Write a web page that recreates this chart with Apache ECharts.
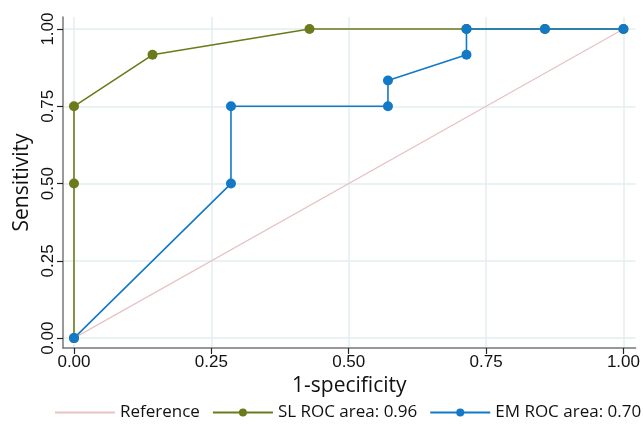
<!DOCTYPE html>
<html>
<head>
<meta charset="utf-8">
<script src="https://cdn.jsdelivr.net/npm/echarts@6/dist/echarts.min.js"></script>
<style>html,body{margin:0;padding:0;background:#fff;}#c{width:643px;height:426px;}</style>
</head>
<body>
<div id="c"></div>
<script>
const tickValues = [0, 0.25, 0.5, 0.75, 1];
const refX = [0, 1];
const refY = [0, 1];
const slX = [0, 0, 0, 0.1429, 0.4286, 0.7143, 0.8571, 1];
const slY = [0, 0.5, 0.75, 0.9167, 1, 1, 1, 1];
const emX = [0, 0.2857, 0.2857, 0.5714, 0.5714, 0.7143, 0.7143, 0.8571, 1];
const emY = [0, 0.5, 0.75, 0.75, 0.8333, 0.9167, 1, 1, 1];
const seriesNames = ['Reference', 'SL ROC area: 0.96', 'EM ROC area: 0.70'];

const zip = (a, b) => a.map((v, i) => [v, b[i]]);
const fmt = v => v.toFixed(2);
const gridColor = '#e4eeef';
const font = 'Liberation Sans';
const chart = echarts.init(document.getElementById('c'), null, {renderer: 'canvas'});
chart.setOption({
  animation: false,
  backgroundColor: '#fff',
  grid: {left: 63, right: 5, top: 17, bottom: 78, containLabel: false},
  legend: {
    bottom: 5, left: 54, width: 640, padding: 0, itemWidth: 60, itemHeight: 10, itemGap: 12,
    textStyle: {fontFamily: 'Open Sans', fontSize: 17, color: '#111'},
    data: [
      {name: seriesNames[0], itemStyle: {opacity: 0}},
      {name: seriesNames[1]},
      {name: seriesNames[2]}
    ]
  },
  xAxis: {
    type: 'value', min: -0.02, max: 1.022,
    name: '1-specificity', nameLocation: 'middle', nameGap: 28,
    nameTextStyle: {fontFamily: 'Open Sans', fontSize: 21, color: '#111'},
    axisLine: {show: true, onZero: false, lineStyle: {color: '#777', width: 1.5}},
    axisTick: {show: true, length: 6, lineStyle: {color: '#222', width: 1.2}, customValues: tickValues},
    axisLabel: {customValues: tickValues, formatter: fmt, fontFamily: font, fontSize: 17, color: '#111', margin: 6},
    splitLine: {show: true, lineStyle: {color: gridColor, width: 1.5}}
  },
  yAxis: {
    type: 'value', min: -0.032, max: 1.039,
    name: 'Sensitivity', nameLocation: 'middle', nameGap: 28,
    nameTextStyle: {fontFamily: 'Open Sans', fontSize: 21, color: '#111'},
    axisLine: {show: true, onZero: false, lineStyle: {color: '#777', width: 1.5}},
    axisTick: {show: true, length: 6, lineStyle: {color: '#222', width: 1.2}, customValues: tickValues},
    axisLabel: {customValues: tickValues, formatter: fmt, rotate: 90, fontFamily: font, fontSize: 17, color: '#111', margin: 6},
    splitLine: {show: true, lineStyle: {color: gridColor, width: 1.5}}
  },
  series: [
    {name: seriesNames[0], type: 'line', data: zip(refX, refY), showSymbol: false, symbol: 'none',
     lineStyle: {color: '#e8c3c5', width: 1.3}, itemStyle: {color: '#e8c3c5'}, z: 1},
    {name: seriesNames[1], type: 'line', data: zip(slX, slY), symbol: 'circle', symbolSize: 10,
     lineStyle: {color: '#6b7a1b', width: 1.6}, itemStyle: {color: '#6b7a1b'}, z: 2},
    {name: seriesNames[2], type: 'line', data: zip(emX, emY), symbol: 'circle', symbolSize: 10,
     lineStyle: {color: '#1179c6', width: 1.6}, itemStyle: {color: '#1179c6'}, z: 3}
  ]
});
</script>
</body>
</html>
